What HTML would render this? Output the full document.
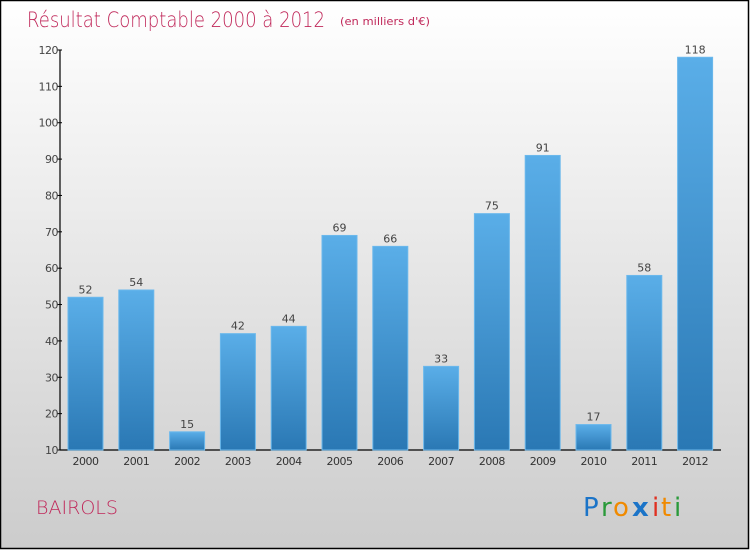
<!DOCTYPE html>
<html><head><meta charset="utf-8">
<style>
html,body{margin:0;padding:0;}
body{width:750px;height:550px;overflow:hidden;font-family:"DejaVu Sans","Liberation Sans",sans-serif;}
</style></head>
<body>
<svg id="chart" width="750" height="550" xmlns="http://www.w3.org/2000/svg">
<defs>
<linearGradient id="bg" x1="0" y1="0" x2="0" y2="1"><stop offset="0" stop-color="#ffffff"/><stop offset="1" stop-color="#cccccc"/></linearGradient>
<linearGradient id="bar" x1="0" y1="0" x2="0" y2="1"><stop offset="0" stop-color="#5aaee8"/><stop offset="1" stop-color="#2a78b4"/></linearGradient>
</defs>
<rect x="0.5" y="0.5" width="748" height="548" fill="url(#bg)" stroke="#000" stroke-width="1.5"/>
<text x="27" y="27" font-size="21" fill="#c0285a" font-weight="200" textLength="298" lengthAdjust="spacingAndGlyphs">Résultat Comptable 2000 à 2012</text>
<text x="340" y="25" font-size="11" fill="#c0285a" textLength="90" lengthAdjust="spacingAndGlyphs">(en milliers d'€)</text>
<g id="yaxis"></g>
<g id="bars"></g>
<text x="36" y="514" font-size="19" fill="#c0285a" font-weight="200" textLength="82" lengthAdjust="spacingAndGlyphs">BAIROLS</text>
<g font-size="26" font-family="DejaVu Sans, sans-serif">
<text x="583" y="516" fill="#1b74c8">P</text><text x="601" y="516" fill="#2a9a3a">r</text><text x="613" y="516" fill="#f08a00">o</text><text x="632" y="516" fill="#1b74c8" font-weight="bold">x</text><text x="652" y="516" fill="#e03020">i</text><text x="661" y="516" fill="#f08a00">t</text><text x="674" y="516" fill="#2a9a3a">i</text>
</g>
</svg>
<script>
const categories=["2000","2001","2002","2003","2004","2005","2006","2007","2008","2009","2010","2011","2012"];
const values=[52,54,15,42,44,69,66,33,75,91,17,58,118];
const yTicks=[10,20,30,40,50,60,70,80,90,100,110,120];
const NS="http://www.w3.org/2000/svg";
const y0=450,y1=50,vmin=10,vmax=120,x0=60,step=50.8,firstCenter=85.5,bw=35;
function yScale(v){return y0-(v-vmin)/(vmax-vmin)*(y0-y1);}
function xScale(i){return firstCenter+i*step;}
function mk(tag,attrs,parent){const e=document.createElementNS(NS,tag);for(const k in attrs)e.setAttribute(k,attrs[k]);parent.appendChild(e);return e;}
const ya=document.getElementById('yaxis');
let l=mk('line',{x1:x0,y1:y1,x2:x0,y2:y0,stroke:'#000','stroke-width':1.2},ya);


l=mk('line',{x1:x0,y1:y0,x2:721,y2:y0,stroke:'#000','stroke-width':1.2},ya);


yTicks.forEach(t=>{
  const y=yScale(t);
  const tk=mk('line',{x1:x0-3,y1:y,x2:x0+2,y2:y,stroke:'#000'},ya);
  
  
  const tx=mk('text',{x:x0-2,y:y+4,'text-anchor':'end','font-size':11,fill:'#444','letter-spacing':'-0.5'},ya);
  tx.textContent=t;
  
  
});
const bg=document.getElementById('bars');
categories.forEach((c,i)=>{
  const cx=xScale(i),y=yScale(values[i]);
  const r=mk('rect',{x:cx-bw/2,y:y,width:bw,height:y0-y,fill:'url(#bar)',stroke:'#6bb8ec','stroke-width':1},bg);
  
  
  const vl=mk('text',{x:cx,y:y-4,'text-anchor':'middle','font-size':11,fill:'#444'},bg);
  vl.textContent=values[i];
  
  
  const xl=mk('text',{x:cx,y:y0+15,'text-anchor':'middle','font-size':11,fill:'#333','letter-spacing':'-0.5'},bg);
  xl.textContent=c;
  
  
});
</script>
</body></html>
